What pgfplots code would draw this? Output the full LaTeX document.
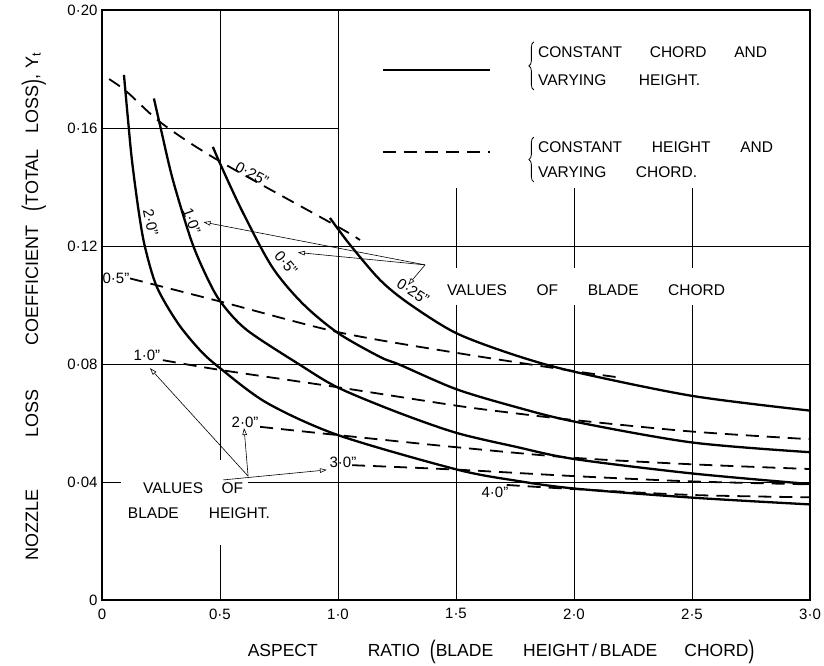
\documentclass[border=0pt]{standalone}
\usepackage{pgfplots}
\pgfplotsset{compat=1.18}
\usepackage{graphicx}
\usepackage{fontspec}
\setmainfont{Liberation Sans}
\usetikzlibrary{arrows.meta,decorations.pathreplacing}
\newcommand{\fs}[1]{\fontsize{#1}{#1}\selectfont}
\newcommand{\lp}{\raisebox{-2.5pt}{\scalebox{1}[1.45]{(}}}
\newcommand{\rp}{\raisebox{-2.5pt}{\scalebox{1}[1.45]{)}}}
\begin{document}
\begin{tikzpicture}
\begin{axis}[
  width=708pt,height=590pt,scale only axis,
  xmin=0,xmax=3,ymin=0,ymax=0.2,
  clip=false,
  axis line style={line width=1.3pt},
  xtick={0,0.5,1,1.5,2,2.5,3},
  xticklabels={0,0·5,1·0,1·5,2·0,2·5,3·0},
  ytick={0,0.04,0.08,0.12,0.16,0.2},
  yticklabels={0,0·04,0·08,0·12,0·16,0·20},
  major tick length=0pt,
  xticklabel style={font=\fs{15},yshift=-5pt},
  yticklabel style={font=\fs{15},xshift=-1pt},
  scaled y ticks=false,
]
\coordinate (bl) at (rel axis cs:0,0);
\coordinate (tr) at (rel axis cs:1,1);
% grid lines (partial, as in the original drawing)
\draw[line width=0.7pt] (axis cs:0.5,0) -- (axis cs:0.5,0.0186);
\draw[line width=0.7pt] (axis cs:0.5,0.0475) -- (axis cs:0.5,0.2);
\draw[line width=0.7pt] (axis cs:1.0,0) -- (axis cs:1.0,0.2);
\draw[line width=0.7pt] (axis cs:1.5,0) -- (axis cs:1.5,0.1);
\draw[line width=0.7pt] (axis cs:1.5,0.1125) -- (axis cs:1.5,0.1397);
\draw[line width=0.7pt] (axis cs:2.0,0) -- (axis cs:2.0,0.1);
\draw[line width=0.7pt] (axis cs:2.0,0.1125) -- (axis cs:2.0,0.1397);
\draw[line width=0.7pt] (axis cs:2.5,0) -- (axis cs:2.5,0.1);
\draw[line width=0.7pt] (axis cs:2.5,0.1125) -- (axis cs:2.5,0.1397);
\draw[line width=0.7pt] (axis cs:0,0.16) -- (axis cs:1.0,0.16);
\draw[line width=0.7pt] (axis cs:0,0.12) -- (axis cs:3,0.12);
\draw[line width=0.7pt] (axis cs:0,0.08) -- (axis cs:3,0.08);
\draw[line width=0.7pt] (axis cs:0,0.04) -- (axis cs:0.08,0.04);
\draw[line width=0.7pt] (axis cs:0.62,0.04) -- (axis cs:3,0.04);
% solid: constant chord, varying height
% chord 2.0"
\addplot[line width=2.3pt,smooth,tension=0.5] coordinates {
(0.093,0.178) (0.110,0.163) (0.127,0.149) (0.155,0.132) (0.182,0.1197) (0.232,0.1062)
(0.32,0.094) (0.415,0.0847) (0.5,0.0786) (0.699,0.0668) (1.0,0.0559) (1.5,0.0443)
(1.75,0.0405) (2.0,0.0378) (2.5,0.0347) (3.0,0.0324)};
% chord 1.0"
\addplot[line width=2.3pt,smooth,tension=0.5] coordinates {
(0.22,0.170) (0.25,0.1595) (0.30,0.1425) (0.38,0.1215) (0.45,0.1085) (0.508,0.1005)
(0.614,0.0915) (0.839,0.0797) (1.0,0.0720) (1.25,0.0637) (1.5,0.0567) (1.75,0.052)
(2.0,0.0478) (2.5,0.0429) (3.0,0.0393)};
% chord 0.5"
\addplot[line width=2.3pt,smooth,tension=0.5] coordinates {
(0.47,0.1536) (0.5,0.148) (0.593,0.132) (0.72,0.113) (0.85,0.1005) (1.0,0.0905)
(1.178,0.0824) (1.263,0.0797) (1.5,0.0715) (1.75,0.0655) (2.0,0.0605)
(2.5,0.0534) (3.0,0.0501)};
% chord 0.25"
\addplot[line width=2.3pt,smooth,tension=0.5] coordinates {
(0.966,0.1295) (1.05,0.1205) (1.178,0.1085) (1.3,0.1005) (1.5,0.0905) (1.75,0.0830)
(2.0,0.0774) (2.5,0.0692) (3.0,0.0642)};
% dashed: constant height, varying chord
\addplot[line width=1.8pt,dash pattern=on 13pt off 8pt,smooth,tension=0.5] coordinates {
(0.03,0.1766) (0.105,0.1723) (0.253,0.1616) (0.493,0.149) (1.0,0.1265) (1.093,0.122)};
\addplot[line width=1.8pt,dash pattern=on 13pt off 8pt,smooth,tension=0.5] coordinates {
(0.119,0.109) (0.5,0.1012) (1.0,0.0908) (1.5,0.0838) (2.0,0.0776) (2.195,0.0754)};
\addplot[line width=1.8pt,dash pattern=on 13pt off 8pt,smooth,tension=0.5] coordinates {
(0.258,0.0813) (0.5,0.078) (1.0,0.0721) (1.5,0.0659) (1.75,0.0633) (2.0,0.0610)
(2.5,0.0571) (3.0,0.0545)};
\addplot[line width=1.8pt,dash pattern=on 13pt off 8pt,smooth,tension=0.5] coordinates {
(0.67,0.0587) (1.0,0.0559) (1.5,0.0518) (2.0,0.0482) (2.5,0.046) (3.0,0.0444)};
\addplot[line width=1.8pt,dash pattern=on 13pt off 8pt,smooth,tension=0.5] coordinates {
(1.06,0.0457) (1.5,0.0442) (2.0,0.0420) (2.5,0.0402) (3.0,0.0392)};
\addplot[line width=1.8pt,dash pattern=on 13pt off 8pt,smooth,tension=0.5] coordinates {
(1.715,0.039) (2.0,0.0376) (2.5,0.0356) (3.0,0.0348)};
% legend
\draw[line width=2.3pt] (axis cs:1.19,0.1797) -- (axis cs:1.644,0.1797);
\draw[line width=1.8pt,dash pattern=on 13pt off 8pt] (axis cs:1.19,0.1519) -- (axis cs:1.644,0.1519);
\draw[line width=0.8pt,decorate,decoration={brace,amplitude=5pt}] (axis cs:1.83,0.1729) -- (axis cs:1.83,0.1892);
\draw[line width=0.8pt,decorate,decoration={brace,amplitude=5pt}] (axis cs:1.83,0.1417) -- (axis cs:1.83,0.1569);
\node[anchor=west,inner sep=0pt] at (axis cs:1.847,0.1858) {\fs{15.5}\makebox[229pt][s]{CONSTANT CHORD AND}};
\node[anchor=west,inner sep=0pt] at (axis cs:1.847,0.1763) {\fs{15.5}\makebox[162pt][s]{VARYING HEIGHT.}};
\node[anchor=west,inner sep=0pt] at (axis cs:1.847,0.1536) {\fs{15.5}\makebox[235pt][s]{CONSTANT HEIGHT AND}};
\node[anchor=west,inner sep=0pt] at (axis cs:1.847,0.1451) {\fs{15.5}\makebox[159pt][s]{VARYING CHORD.}};
% annotations
\node[inner sep=0pt] at (axis cs:2.051,0.1051) {\fs{15.5}\makebox[278pt][s]{VALUES OF BLADE CHORD}};
\node[inner sep=0pt] at (axis cs:0.386,0.038) {\fs{15.5}\makebox[100pt][s]{VALUES OF}};
\node[inner sep=0pt] at (axis cs:0.411,0.0295) {\fs{15.5}\makebox[142pt][s]{BLADE HEIGHT.}};
% curve labels
\node[rotate=-78,inner sep=0pt,font=\fs{15}] at (axis cs:0.206,0.128) {2·0"};
\node[rotate=-70,inner sep=0pt,font=\fs{15}] at (axis cs:0.38,0.1285) {1·0"};
\node[rotate=-50,inner sep=0pt,font=\fs{15}] at (axis cs:0.78,0.1142) {0·5"};
\node[rotate=-33,inner sep=0pt,font=\fs{15}] at (axis cs:1.318,0.1045) {0·25"};
\node[rotate=-28,inner sep=0pt,font=\fs{15}] at (axis cs:0.636,0.1445) {0·25"};
\node[inner sep=0pt,font=\fs{15}] at (axis cs:0.059,0.1092) {0·5"};
\node[inner sep=0pt,font=\fs{15}] at (axis cs:0.19,0.083) {1·0"};
\node[inner sep=0pt,font=\fs{15}] at (axis cs:0.606,0.0603) {2·0"};
\node[inner sep=0pt,font=\fs{15}] at (axis cs:1.021,0.0468) {3·0"};
\node[inner sep=0pt,font=\fs{15}] at (axis cs:1.665,0.0366) {4·0"};
% arrows
\draw[line width=0.6pt,-{Triangle[open,length=7pt,width=4.5pt]}] (axis cs:1.369,0.1136) -- (axis cs:0.43,0.1281);
\draw[line width=0.6pt,-{Triangle[open,length=7pt,width=4.5pt]}] (axis cs:1.369,0.1136) -- (axis cs:0.83,0.1178);
\draw[line width=0.6pt,-{Triangle[open,length=7pt,width=4.5pt]}] (axis cs:1.369,0.1136) -- (axis cs:1.297,0.1068);
\draw[line width=0.6pt,-{Triangle[open,length=7pt,width=4.5pt]}] (axis cs:0.619,0.042) -- (axis cs:0.203,0.0786);
\draw[line width=0.6pt,-{Triangle[open,length=7pt,width=4.5pt]}] (axis cs:0.619,0.042) -- (axis cs:0.602,0.0583);
\draw[line width=0.6pt,-{Triangle[open,length=7pt,width=4.5pt]}] (axis cs:0.513,0.0407) -- (axis cs:0.953,0.0441);
% axis titles
\node[rotate=90,anchor=base,inner sep=0pt] at (axis cs:-0.271,0.0995) {\fs{18}NOZZLE\hspace{52pt}LOSS\hspace{44pt}COEFFICIENT\hspace{14pt}\lp TOTAL\hspace{16pt}LOSS\rp,\hspace{6pt}Y\textsubscript{t}};
\node[anchor=base,inner sep=0pt] at (axis cs:1.691,-0.0190) {\fs{17.5}ASPECT\hspace{50pt}RATIO\hspace{10pt}\lp BLADE\hspace{30pt}HEIGHT\,/\,BLADE\hspace{27pt}CHORD\rp};
\end{axis}
\pgfresetboundingbox
\path ([shift={(-102pt,-66pt)}]bl) rectangle ([shift={(14pt,10pt)}]tr);
\end{tikzpicture}
\end{document}
